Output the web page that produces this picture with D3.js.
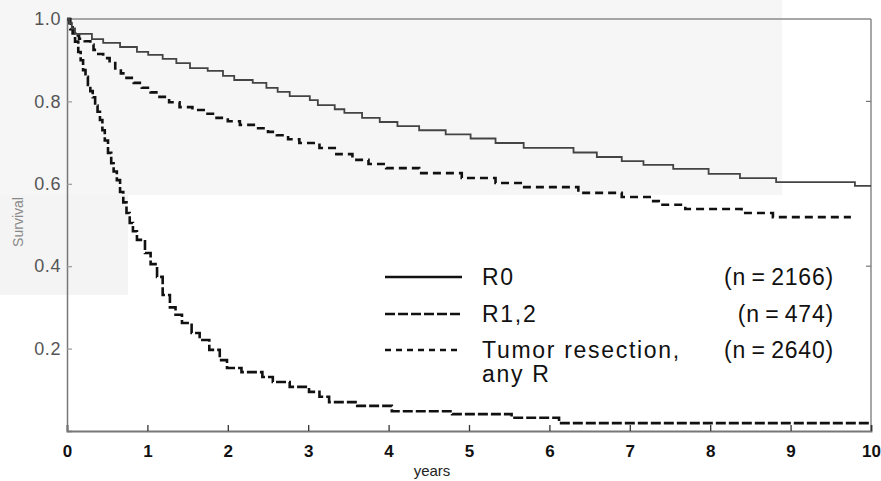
<!DOCTYPE html>
<html>
<head>
<meta charset="utf-8">
<script src="https://cdn.jsdelivr.net/npm/d3@7"></script>
<style>
  html, body { margin: 0; padding: 0; background: #fff; }
  svg { display: block; font-family: "Liberation Sans", Arial, Helvetica, sans-serif; }
</style>
</head>
<body>
<svg id="chart" width="881" height="481"></svg>
<script>
// ---- data ----
const xTicks = [0,1,2,3,4,5,6,7,8,9,10];
const yTicks = [0.2,0.4,0.6,0.8,1.0];

// R0 (solid) : years / survival
const r0Times  = [0, 0.03, 0.06, 0.10, 0.31, 0.45, 0.66, 0.87, 1.01, 1.19, 1.36, 1.53, 1.75, 1.94, 2.08, 2.31, 2.48, 2.62, 2.77, 3.02, 3.12, 3.33, 3.45, 3.67, 3.89, 4.11, 4.38, 4.71, 5.02, 5.33, 5.68, 6.30, 6.59, 6.90, 7.17, 7.54, 7.98, 8.37, 8.82, 9.80, 10.0];
const r0Values = [1.0, 0.99, 0.977, 0.964, 0.951, 0.942, 0.932, 0.920, 0.913, 0.903, 0.893, 0.881, 0.874, 0.862, 0.852, 0.845, 0.833, 0.823, 0.813, 0.803, 0.791, 0.781, 0.772, 0.760, 0.750, 0.740, 0.730, 0.720, 0.710, 0.699, 0.687, 0.676, 0.665, 0.655, 0.646, 0.636, 0.624, 0.614, 0.604, 0.595, 0.595];

// R1,2 (long dashes)
const r12Times  = [0, 0.03, 0.05, 0.07, 0.10, 0.14, 0.17, 0.20, 0.23, 0.26, 0.29, 0.32, 0.35, 0.38, 0.41, 0.44, 0.47, 0.51, 0.55, 0.58, 0.62, 0.66, 0.70, 0.74, 0.78, 0.82, 0.87, 0.97, 1.04, 1.12, 1.19, 1.28, 1.35, 1.43, 1.55, 1.65, 1.77, 1.90, 1.99, 2.17, 2.43, 2.56, 2.77, 3.01, 3.14, 3.26, 3.61, 4.04, 4.79, 5.53, 6.12, 10.0];
const r12Values = [1.0, 0.99, 0.98, 0.965, 0.945, 0.92, 0.90, 0.876, 0.86, 0.84, 0.825, 0.81, 0.79, 0.775, 0.755, 0.73, 0.705, 0.675, 0.65, 0.63, 0.609, 0.58, 0.555, 0.529, 0.505, 0.485, 0.464, 0.432, 0.405, 0.374, 0.330, 0.300, 0.282, 0.262, 0.238, 0.221, 0.197, 0.172, 0.153, 0.143, 0.131, 0.119, 0.107, 0.095, 0.083, 0.070, 0.061, 0.048, 0.041, 0.032, 0.019, 0.019];

// Tumor resection, any R (short dashes)
const anyTimes  = [0, 0.04, 0.08, 0.15, 0.22, 0.29, 0.33, 0.37, 0.45, 0.53, 0.60, 0.67, 0.74, 0.83, 0.93, 1.04, 1.15, 1.27, 1.40, 1.56, 1.70, 1.86, 2.00, 2.15, 2.36, 2.50, 2.61, 2.75, 2.89, 3.14, 3.35, 3.55, 3.75, 3.97, 4.38, 4.91, 5.33, 5.66, 6.36, 6.90, 7.27, 7.36, 7.69, 8.39, 8.78, 9.75];
const anyValues = [1.0, 0.975, 0.960, 0.952, 0.946, 0.938, 0.925, 0.915, 0.905, 0.893, 0.880, 0.868, 0.857, 0.845, 0.833, 0.822, 0.811, 0.798, 0.786, 0.779, 0.770, 0.760, 0.752, 0.743, 0.735, 0.726, 0.718, 0.708, 0.699, 0.687, 0.672, 0.658, 0.648, 0.638, 0.626, 0.614, 0.602, 0.592, 0.578, 0.568, 0.558, 0.549, 0.539, 0.529, 0.519, 0.519];

const legendLabels = ["R0", "R1,2", "Tumor resection,"];
const legendLabel2 = ["", "", "any R"];
const legendCounts = ["(n\u2009=\u20092166)", "(n\u2009=\u2009474)", "(n\u2009=\u20092640)"];

// ---- drawing ----
const svg = d3.select("#chart");
const x = d3.scaleLinear().domain([0, 10]).range([67, 871]);
const y = d3.scaleLinear().domain([0, 1]).range([431, 19]);

// faint scan background tones
svg.append("rect").attr("x", 0).attr("y", 0).attr("width", 782).attr("height", 195).attr("fill", "#f6f6f6");
svg.append("rect").attr("x", 0).attr("y", 195).attr("width", 128).attr("height", 100).attr("fill", "#f4f4f4");

// frame (top and right borders)
svg.append("line").attr("x1", x(0)).attr("x2", x(10)).attr("y1", y(1)).attr("y2", y(1))
  .attr("stroke", "#8a8a8a").attr("stroke-width", 1.5);
svg.append("line").attr("x1", x(10)).attr("x2", x(10)).attr("y1", y(1)).attr("y2", y(0))
  .attr("stroke", "#8a8a8a").attr("stroke-width", 1.5);
// right inward ticks
svg.append("g").selectAll("line").data([0.4, 0.8]).join("line")
  .attr("x1", x(10)).attr("x2", x(10) - 5).attr("y1", d => y(d)).attr("y2", d => y(d))
  .attr("stroke", "#777").attr("stroke-width", 1.2);

// x axis
const xAxis = svg.append("g").attr("transform", `translate(0,${y(0)})`)
  .call(d3.axisBottom(x).tickValues(xTicks).tickFormat(d3.format("d")).tickSize(-6).tickPadding(14));
xAxis.select(".domain").attr("stroke", "#777").attr("stroke-width", 2);
xAxis.selectAll(".tick line").attr("stroke", "#333").attr("stroke-width", 1.3);
xAxis.selectAll(".tick text").attr("font-size", 17).attr("font-weight", "bold").attr("fill", "#111")
  .attr("font-family", "Liberation Sans, Arial, sans-serif");

// y axis
const yAxis = svg.append("g").attr("transform", `translate(${x(0)},0)`)
  .call(d3.axisLeft(y).tickValues(yTicks).tickFormat(d3.format(".1f")).tickSize(-5).tickPadding(6));
yAxis.select(".domain").attr("stroke", "#777").attr("stroke-width", 1.5);
yAxis.selectAll(".tick line").attr("stroke", "#999").attr("stroke-width", 1.2);
yAxis.selectAll(".tick text").attr("font-size", 18).attr("fill", "#555").attr("letter-spacing", 0.6)
  .attr("font-family", "Liberation Sans, Arial, sans-serif");

// axis titles
svg.append("text").attr("x", 432).attr("y", 476).attr("text-anchor", "middle")
  .attr("font-size", 15).attr("fill", "#222").text("years");
svg.append("text").attr("transform", `translate(23,222) rotate(-90)`).attr("text-anchor", "middle")
  .attr("font-size", 14).attr("fill", "#888").text("Survival");

// curves
const line = d3.line().x(d => x(d[0])).y(d => y(d[1])).curve(d3.curveStepAfter);
const r0 = r0Times.map((t, i) => [t, r0Values[i]]);
const r12 = r12Times.map((t, i) => [t, r12Values[i]]);
const anyR = anyTimes.map((t, i) => [t, anyValues[i]]);

svg.append("path").datum(anyR).attr("d", line).attr("fill", "none")
  .attr("stroke", "#111").attr("stroke-width", 2.6).attr("stroke-dasharray", "8,5");
svg.append("path").datum(r12).attr("d", line).attr("fill", "none")
  .attr("stroke", "#111").attr("stroke-width", 2.6).attr("stroke-dasharray", "10,3");
svg.append("path").datum(r0).attr("d", line).attr("fill", "none")
  .attr("stroke", "#444").attr("stroke-width", 1.8);

// legend
const legY = [277, 314, 350];
const dashes = [null, "10,3", "6,5"];
const lg = svg.append("g");
legY.forEach((ly, i) => {
  const l = lg.append("line").attr("x1", 385).attr("x2", 462).attr("y1", ly).attr("y2", ly)
    .attr("stroke", "#111").attr("stroke-width", 2.6);
  if (dashes[i]) l.attr("stroke-dasharray", dashes[i]);
  lg.append("text").attr("x", 482).attr("y", ly + 8).attr("font-size", 23).attr("letter-spacing", 1.7)
    .attr("fill", "#111").text(legendLabels[i]);
  if (legendLabel2[i]) lg.append("text").attr("x", 482).attr("y", ly + 32).attr("font-size", 23)
    .attr("letter-spacing", 1.7).attr("fill", "#111").text(legendLabel2[i]);
  lg.append("text").attr("x", 834).attr("y", ly + 8).attr("text-anchor", "end").attr("font-size", 23)
    .attr("letter-spacing", 0.8).attr("fill", "#111").text(legendCounts[i]);
});
</script>
</body>
</html>
